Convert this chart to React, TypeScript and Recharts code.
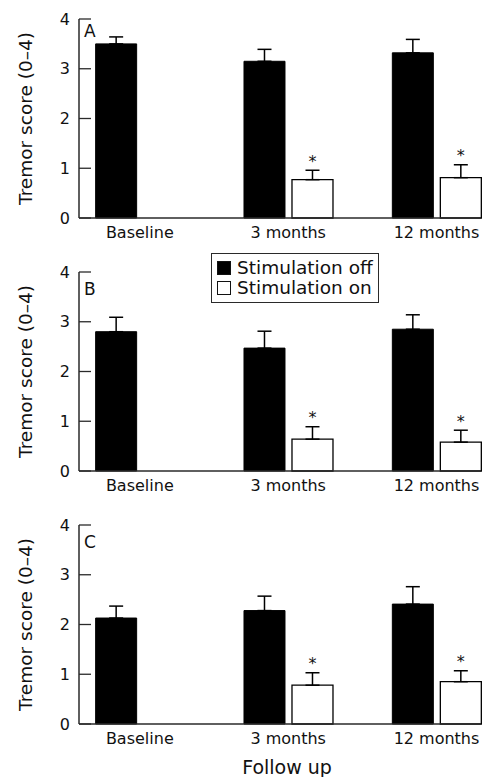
import { BarChart, Bar, XAxis, YAxis, ErrorBar, LabelList, Legend } from "recharts";

const GROUPS = ["Baseline", "3 months", "12 months"];
const STARS = ["", "*", "*"];

// panel A
const A_OFF = [3.5, 3.15, 3.32];
const A_OFF_SE = [0.14, 0.24, 0.27];
const A_ON = [null, 0.77, 0.81];
const A_ON_SE = [null, 0.19, 0.26];

// panel B
const B_OFF = [2.8, 2.47, 2.85];
const B_OFF_SE = [0.29, 0.34, 0.29];
const B_ON = [null, 0.64, 0.58];
const B_ON_SE = [null, 0.25, 0.24];

// panel C
const C_OFF = [2.13, 2.28, 2.41];
const C_OFF_SE = [0.24, 0.29, 0.35];
const C_ON = [null, 0.78, 0.85];
const C_ON_SE = [null, 0.25, 0.22];

const Y_TICKS = [0, 1, 2, 3, 4];
const FONT = "'DejaVu Sans', sans-serif";
const AXIS = "#2a2a2a";

type Row = {
  x: number;
  off: number;
  offSe: number;
  on: number | null;
  onSe: number | null;
  star: string;
};

function rows(
  off: number[],
  offSe: number[],
  on: (number | null)[],
  onSe: (number | null)[]
): Row[] {
  return GROUPS.map((_, i) => ({
    x: i,
    off: off[i],
    offSe: offSe[i],
    on: on[i],
    onSe: onSe[i],
    star: on[i] == null ? "" : STARS[i],
  }));
}

const PANELS = [
  { letter: "A", data: rows(A_OFF, A_OFF_SE, A_ON, A_ON_SE), top: 0, height: 250, letterTop: 23 },
  { letter: "B", data: rows(B_OFF, B_OFF_SE, B_ON, B_ON_SE), top: 253, height: 250, letterTop: 281 },
  { letter: "C", data: rows(C_OFF, C_OFF_SE, C_ON, C_ON_SE), top: 506, height: 271, letterTop: 534 },
];

// star sits above the error bar of the "on" bar; the null baseline bar
// is not rendered, so the label index runs over the drawn bars only
function starContent(data: Row[]) {
  const drawn = data.filter((d) => d.on != null);
  return (props: any) => {
    const { x, y, width, height, value, index } = props;
    const d = drawn[index];
    if (!value || !d || d.on == null || d.onSe == null) return null;
    const pxPerUnit = height / d.on;
    const top = y - d.onSe * pxPerUnit;
    return (
      <text
        x={x + width / 2}
        y={top - 3.5}
        textAnchor="middle"
        fontSize={16}
        fill="#111"
        fontFamily={FONT}
      >
        {value}
      </text>
    );
  };
}

function LegendBox(props: any) {
  const payload = props.payload || [];
  return (
    <div
      style={{
        border: `1.5px solid ${AXIS}`,
        padding: "4px 5px",
        background: "#fff",
        fontFamily: FONT,
        fontSize: 18.5,
        lineHeight: "20px",
        color: "#111",
        whiteSpace: "nowrap",
      }}
    >
      {payload.map((p: any) => (
        <div key={p.value} style={{ display: "flex", alignItems: "center" }}>
          <span
            style={{
              display: "inline-block",
              width: 12,
              height: 12,
              background: p.color,
              border: "1px solid #111",
              marginRight: 6,
            }}
          />
          {p.value}
        </div>
      ))}
    </div>
  );
}

function Panel({ p, last, legend }: { p: (typeof PANELS)[number]; last: boolean; legend: boolean }) {
  const xAxisHeight = p.height - 19 - 199;
  return (
    <div style={{ position: "absolute", left: 0, top: p.top }}>
      <BarChart
        width={482}
        height={p.height}
        data={p.data}
        margin={{ top: 19, right: 1, left: 0, bottom: 0 }}
        barSize={41}
        barGap={7}
      >
        <XAxis
          dataKey="x"
          type="number"
          domain={[-0.41, 2.3]}
          ticks={[0, 1, 2]}
          tickFormatter={(i: number) => GROUPS[i] ?? ""}
          tick={{ fontSize: 16, fill: "#111", fontFamily: FONT }}
          tickLine={false}
          tickSize={0}
          tickMargin={9}
          height={xAxisHeight}
          axisLine={{ stroke: AXIS, strokeWidth: 1.5 }}
          interval={0}
          label={
            last
              ? {
                  content: ({ viewBox }: any) => (
                    <text
                      x={viewBox.x + viewBox.width / 2 + 7}
                      y={viewBox.y + viewBox.height - 3}
                      textAnchor="middle"
                      fontSize={19}
                      fill="#111"
                      fontFamily={FONT}
                    >
                      Follow up
                    </text>
                  ),
                }
              : undefined
          }
        />
        <YAxis
          type="number"
          domain={[0, 4]}
          ticks={Y_TICKS}
          width={79}
          tick={{ fontSize: 16, fill: "#111", fontFamily: FONT }}
          tickSize={-12}
          tickMargin={21}
          tickLine={{ stroke: AXIS, strokeWidth: 1.3 }}
          axisLine={{ stroke: AXIS, strokeWidth: 1.5 }}
          label={{
            content: ({ viewBox }: any) => (
              <text
                x={viewBox.x + 25}
                y={viewBox.y + viewBox.height / 2}
                transform={`rotate(-90, ${viewBox.x + 25}, ${viewBox.y + viewBox.height / 2})`}
                textAnchor="middle"
                dominantBaseline="central"
                fontSize={18.5}
                fill="#111"
                fontFamily={FONT}
              >
                Tremor score (0–4)
              </text>
            ),
          }}
        />
        {legend && (
          <Legend
            layout="vertical"
            align="center"
            verticalAlign="middle"
            content={LegendBox}
            wrapperStyle={{ left: 211, top: 0, width: "auto" }}
          />
        )}
        <Bar
          dataKey="off"
          name="Stimulation off"
          fill="#000"
          stroke="#000"
          isAnimationActive={false}
        >
          <ErrorBar
            dataKey={(d: Row) => [0, d.offSe]}
            width={7}
            stroke="#000"
            strokeWidth={1.5}
            direction="y"
          />
        </Bar>
        <Bar
          dataKey="on"
          name="Stimulation on"
          fill="#fff"
          stroke="#000"
          strokeWidth={1.3}
          isAnimationActive={false}
        >
          <ErrorBar
            dataKey={(d: Row) => (d.onSe == null ? null : [0, d.onSe])}
            width={7}
            stroke="#000"
            strokeWidth={1.5}
            direction="y"
          />
          <LabelList dataKey="star" content={starContent(p.data)} />
        </Bar>
      </BarChart>
      <div
        style={{
          position: "absolute",
          left: 84,
          top: p.letterTop - p.top,
          fontFamily: FONT,
          fontSize: 17,
          lineHeight: "17px",
          color: "#111",
        }}
      >
        {p.letter}
      </div>
    </div>
  );
}

export default function App() {
  return (
    <div
      style={{
        position: "absolute",
        left: 0,
        top: 0,
        width: 482,
        height: 777,
        background: "#fff",
        fontFamily: FONT,
        overflow: "hidden",
      }}
    >
      {PANELS.map((p, i) => (
        <Panel key={p.letter} p={p} last={i === PANELS.length - 1} legend={i === 1} />
      ))}
    </div>
  );
}
